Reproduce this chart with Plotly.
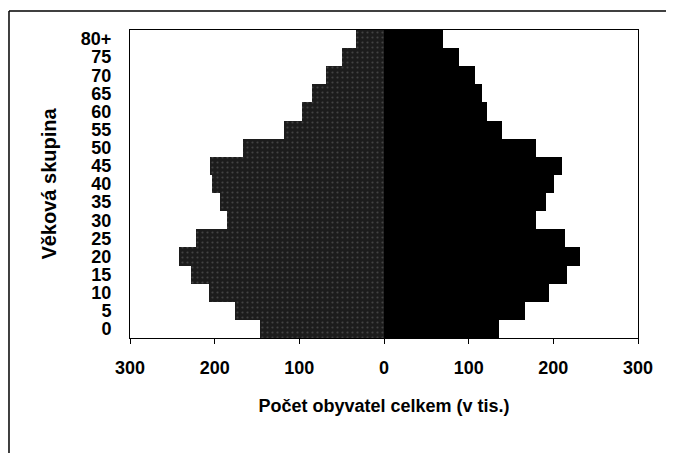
import plotly.graph_objects as go

age_groups = ["0", "5", "10", "15", "20", "25", "30", "35", "40",
              "45", "50", "55", "60", "65", "70", "75", "80+"]
# thousands of inhabitants
left_side = [146, 176, 207, 228, 242, 222, 185, 194, 203,
             206, 167, 118, 97, 85, 69, 50, 33]
right_side = [136, 167, 195, 216, 231, 214, 179, 191, 201,
              210, 179, 139, 122, 116, 108, 89, 70]
tick_vals = [-300, -200, -100, 0, 100, 200, 300]
tick_text = ["300", "200", "100", "0", "100", "200", "300"]

fig = go.Figure()
fig.add_trace(go.Bar(
    y=age_groups,
    x=[-v for v in left_side],
    orientation="h",
    marker=dict(
        color="#1c1c1c",
        line=dict(width=0),
        pattern=dict(shape=".", fgcolor="#6a6a6a", size=5, solidity=0.15,
                     fillmode="overlay"),
    ),
    showlegend=False,
))
fig.add_trace(go.Bar(
    y=age_groups,
    x=right_side,
    orientation="h",
    marker=dict(color="#000000", line=dict(width=0)),
    showlegend=False,
))

bold = "Liberation Sans, Arial, sans-serif"
# page body adds 8px, so margins are shifted by that amount
fig.update_layout(
    width=674, height=453,
    margin=dict(l=122, r=44, t=22, b=123),
    barmode="relative",
    bargap=0,
    paper_bgcolor="white",
    plot_bgcolor="white",
    font=dict(family=bold, color="black"),
)
fig.update_xaxes(
    range=[-300, 300],
    tickvals=tick_vals,
    ticktext=[f"<b>{t}</b>" for t in tick_text],
    tickfont=dict(size=18),
    ticks="outside", ticklen=5, tickcolor="black", ticklabelstandoff=8,
    showline=True, linecolor="black", linewidth=1, mirror=True,
    showgrid=False, zeroline=False,
    title=dict(text="<b>Počet obyvatel celkem (v tis.)</b>",
               font=dict(size=18), standoff=22),
)
fig.update_yaxes(
    categoryorder="array", categoryarray=age_groups,
    tickvals=age_groups,
    ticktext=[f"<b>{a}</b>" for a in age_groups],
    tickfont=dict(size=18),
    ticks="", ticklabelstandoff=14,
    showline=True, linecolor="black", linewidth=1, mirror=True,
    showgrid=False,
    title=dict(text="<b>Věková skupina</b>", font=dict(size=20), standoff=18),
)

# outer frame of the scanned page (top and left edge visible)
fig.add_shape(type="line", xref="paper", yref="paper",
              x0=-0.2382, x1=1.2, y0=1.0617, y1=1.0617,
              line=dict(color="black", width=1.5))
fig.add_shape(type="line", xref="paper", yref="paper",
              x0=-0.2382, x1=-0.2382, y0=-0.5, y1=1.0617,
              line=dict(color="black", width=1.5))

fig.write_html("out.html")
